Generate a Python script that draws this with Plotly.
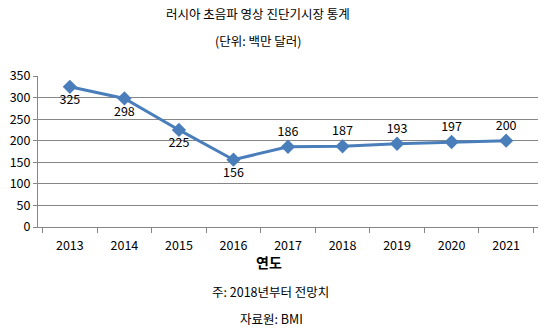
import plotly.graph_objects as go

years = ["2013", "2014", "2015", "2016", "2017", "2018", "2019", "2020", "2021"]
values = [325, 298, 225, 156, 186, 187, 193, 197, 200]
label_pos = ["bottom center"] * 4 + ["top center"] * 5

title = "러시아 초음파 영상 진단기시장 통계"
subtitle = "(단위: 백만 달러)"
x_title = "연도"
note = "주: 2018년부터 전망치"
source = "자료원: BMI"

FONT = "Noto Sans CJK KR"
W, H = 549, 329
L, R, T, B = 38, 11, 76, 102
ph = H - T - B
pw = W - L - R

def py(ypix):
    return (H - B - ypix) / ph

def px(xpix):
    return (xpix - L) / pw

fig = go.Figure()
fig.add_trace(go.Scatter(
    x=years, y=values, mode="lines+markers+text",
    line=dict(color="#4A7EBB", width=3),
    marker=dict(symbol="diamond", size=11, color="#4A7EBB"),
    text=[str(v) for v in values], textposition=label_pos,
    textfont=dict(family=FONT, size=12.5, color="#000000"),
    cliponaxis=False, showlegend=False,
))

ann = [
    (title, 258, 14, 12.5, False),
    (subtitle, 258, 41, 12.5, False),
    (x_title, 269, 262, 14, True),
    (note, 270, 291, 12.5, False),
    (source, 271, 318, 12.5, False),
]
for txt, x, y, s, bold in ann:
    fig.add_annotation(
        text=f"<b>{txt}</b>" if bold else txt,
        x=px(x), y=py(y), xref="paper", yref="paper",
        xanchor="center", yanchor="middle", showarrow=False,
        font=dict(family=FONT, size=s, color="#000000"),
    )

fig.update_layout(
    width=W, height=H, margin=dict(l=L, r=R, t=T, b=B),
    paper_bgcolor="white", plot_bgcolor="white",
    font=dict(family=FONT, size=12, color="#000000"),
)
fig.update_xaxes(
    type="category", tickson="boundaries", ticks="outside", ticklen=5,
    tickcolor="#868686", showline=True, linecolor="#868686", linewidth=1,
    showgrid=False, tickfont=dict(family=FONT, size=12.5), ticklabelstandoff=7,
)
fig.update_yaxes(
    range=[0, 350], dtick=50, ticks="outside", ticklen=4, tickcolor="#868686",
    showline=True, linecolor="#868686", linewidth=1,
    showgrid=True, gridcolor="#868686", gridwidth=1, zeroline=False,
    tickfont=dict(family=FONT, size=12.5),
)

fig.write_html("out.html")
